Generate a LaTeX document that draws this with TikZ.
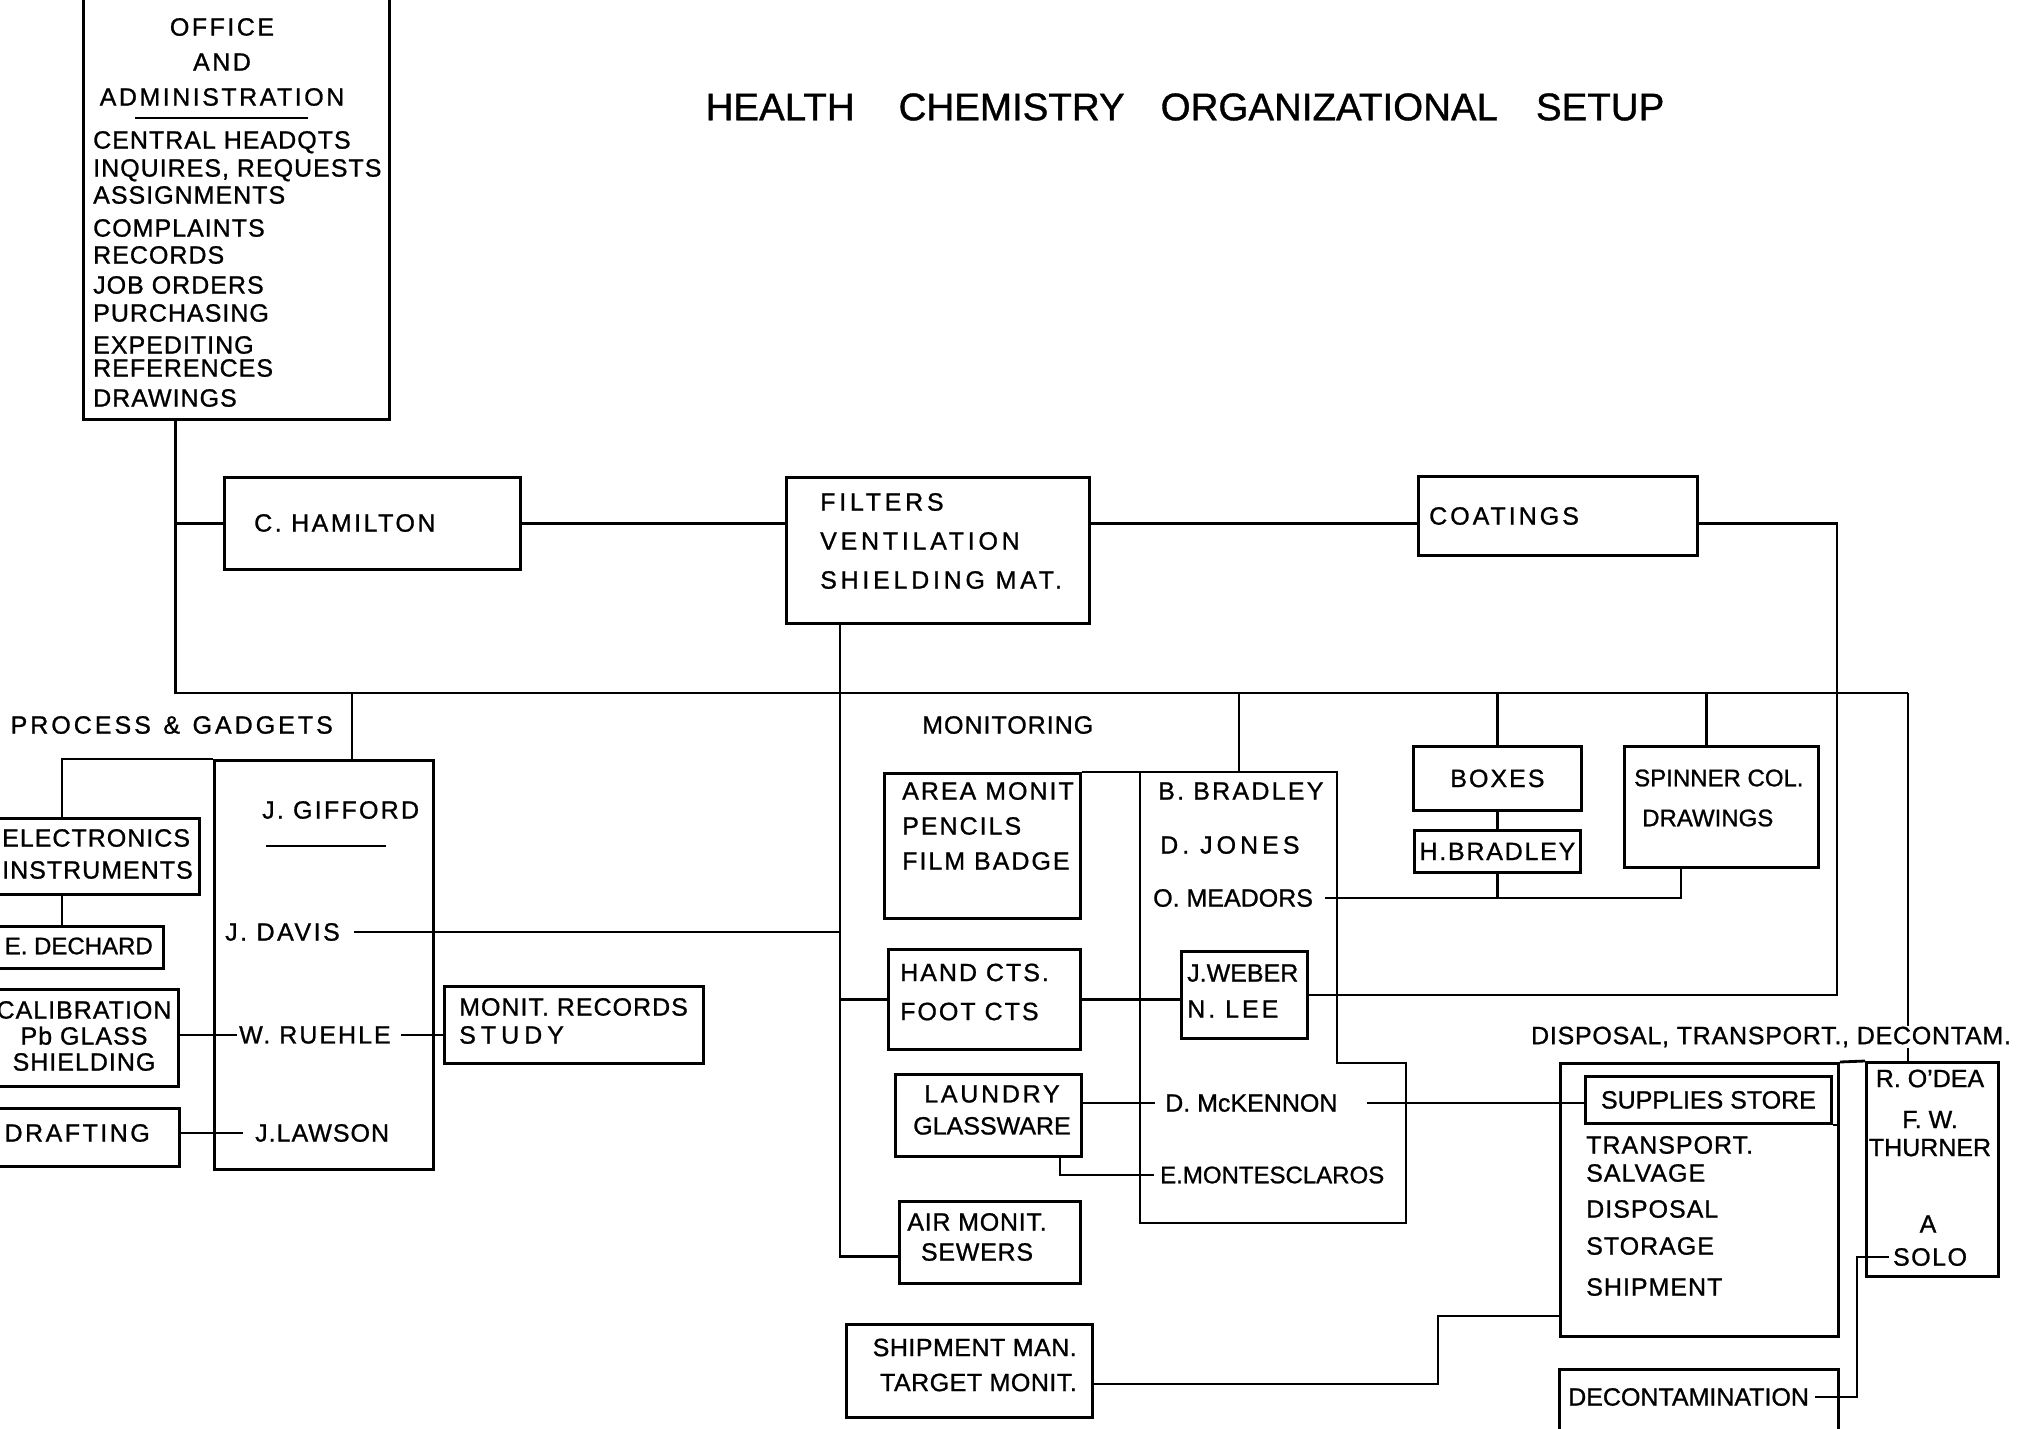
\documentclass[tikz,border=0pt]{standalone}
\usepackage{fontspec}
\setmainfont{Liberation Sans}[FakeBold=1]
\newcommand{\chartsize}[1]{\fontsize{25}{#1}\selectfont}
\newcommand{\spreadby}[1]{\addfontfeature{LetterSpace=#1}}
\tikzset{
  boxline/.style={line width=2.8pt},
  box/.style={draw, boxline, rectangle, inner sep=0pt, anchor=north west},
  txt/.style={inner sep=0pt, anchor=west, align=left, font=\chartsize{30}},
  wire/.style={line width=2.5pt},
}
\begin{document}
\begin{tikzpicture}[x=1pt, y=-1pt]
  \useasboundingbox (0,0) rectangle (2024,1429);
  \fill[white] (0,0) rectangle (2024,1429);
  \clip (0,0) rectangle (2024,1429);

  % title
  \node[inner sep=0pt, font=\fontsize{38.5}{40}\selectfont] (title) at (1185,107)
    {HEALTH\hspace{44pt}CHEMISTRY\hspace{36pt}ORGANIZATIONAL\hspace{38pt}SETUP};

  % office
  \node[box, minimum width=306, minimum height=424] (office) at (82,-6) {};
  \node[txt, anchor=center, align=center, font=\chartsize{35}\spreadby{10}] (offhead) at (222,62)
    {OFFICE\\AND\\ADMINISTRATION};
  \draw[wire] ([xshift=-87, yshift=-12]offhead.south) -- ++(173,0);
  \node[txt, font=\chartsize{27}\spreadby{4}] (offlist) at (93,269)
    {CENTRAL HEADQTS\\[1pt]INQUIRES, REQUESTS\\ASSIGNMENTS\\[6pt]COMPLAINTS\\RECORDS\\[3pt]JOB ORDERS\\[1pt]PURCHASING\\[5pt]EXPEDITING\\[-4pt]REFERENCES\\[3pt]DRAWINGS};

  % top row
  \node[box, minimum width=296, minimum height=92] (ham) at (223,476) {};
  \node[txt, font=\chartsize{30}\spreadby{10}] (hamt) at (254,523) {C. HAMILTON};
  \node[box, minimum width=303, minimum height=146] (filt) at (785,476) {};
  \node[txt, font=\chartsize{39}\spreadby{15}] (filtt) at (820,541) {FILTERS\\VENTILATION\\SHIELDING MAT.};
  \node[box, minimum width=279, minimum height=79] (coat) at (1417,475) {};
  \node[txt, font=\chartsize{30}\spreadby{12}] (coatt) at (1429,516) {COATINGS};

  % process & gadgets
  \node[txt, anchor=east, font=\chartsize{30}\spreadby{12}] (procg) at (333,725) {PROCESS\enspace\&\enspace GADGETS};
  \node[box, minimum width=219, minimum height=409] (giff) at (213,759) {};
  \node[txt, font=\chartsize{30}\spreadby{9}] (gifft) at (262,810) {J. GIFFORD};
  \draw[wire] ([xshift=4, yshift=-27]gifft.south west) -- ++(120,0);
  \node[txt, font=\chartsize{30}\spreadby{10}] (davis) at (225,932) {J. DAVIS};
  \node[txt, font=\chartsize{30}\spreadby{8}] (ruehle) at (239,1035) {W. RUEHLE};
  \node[txt, font=\chartsize{30}\spreadby{4}] (lawson) at (255,1133) {J.LAWSON};
  \node[box, minimum width=218, minimum height=76] (elec) at (-20,817) {};
  \node[txt, font=\chartsize{32}\spreadby{4}] (elect) at (2,854) {ELECTRONICS\\INSTRUMENTS};
  \node[box, minimum width=182, minimum height=42] (dech) at (-20,925) {};
  \node[txt, anchor=east, font=\fontsize{24}{30}\selectfont] (decht) at (153,946) {E. DECHARD};
  \node[box, minimum width=197, minimum height=97] (calib) at (-20,988) {};
  \node[txt, anchor=center, align=center, font=\chartsize{26}\spreadby{4}] (calibt) at (84,1036) {CALIBRATION\\Pb GLASS\\SHIELDING};
  \node[box, minimum width=198, minimum height=58] (draft) at (-20,1107) {};
  \node[txt, anchor=east, font=\chartsize{30}\spreadby{10}] (draftt) at (150,1133) {DRAFTING};
  \node[box, minimum width=259, minimum height=77] (monit) at (443,985) {};
  \node[txt, font=\chartsize{28}\spreadby{4}] (monitt) at (459,1021) {MONIT. RECORDS\\{\spreadby{20}STUDY}};

  % monitoring
  \node[txt, font=\chartsize{30}\spreadby{4}] (monlab) at (922,725) {MONITORING};
  \node[box, minimum width=196, minimum height=145] (area) at (883,772) {};
  \node[txt, font=\chartsize{35}\spreadby{8}] (areat) at (902,826) {AREA MONIT\\PENCILS\\FILM BADGE};
  \node[box, minimum width=192, minimum height=100] (hand) at (887,948) {};
  \node[txt, font=\chartsize{39}\spreadby{8}] (handt) at (900,992) {HAND CTS.\\FOOT CTS};
  \node[box, minimum width=186, minimum height=82] (laun) at (894,1073) {};
  \node[txt, anchor=center, align=center, font=\chartsize{32}] (launt) at (992,1110) {{\spreadby{11}LAUNDRY}\\GLASSWARE};
  \node[box, minimum width=181, minimum height=82] (air) at (898,1200) {};
  \node[txt, anchor=center, align=center, font=\chartsize{30}\spreadby{3}] (airt) at (977,1237) {AIR MONIT.\\SEWERS};
  \node[box, minimum width=246, minimum height=93] (ship) at (845,1323) {};
  \node[txt, anchor=east, align=right, font=\chartsize{35}\spreadby{2}] (shipt) at (1077,1365) {SHIPMENT MAN.\\TARGET MONIT.};

  \coordinate (mongrp) at (1140,772);
  \coordinate (mongrpse) at (1406,1223);
  \coordinate (montop) at (1239,772);
  \draw[boxline] (mongrp) -| (1337,1063) -| (mongrpse) -| (mongrp) -- cycle;
  \node[txt, font=\chartsize{30}\spreadby{9}] (bbrad) at (1158,791) {B. BRADLEY};
  \node[txt, font=\chartsize{30}\spreadby{16}] (djones) at (1160,845) {D. JONES};
  \node[txt] (omead) at (1153,898) {O. MEADORS};
  \node[box, minimum width=126, minimum height=87] (weber) at (1180,950) {};
  \node[txt, font=\chartsize{36}] (webert) at (1187,991) {J.WEBER\\{\spreadby{12}N. LEE}};
  \node[txt] (dmck) at (1165,1103) {D. McKENNON};
  \node[txt, font=\fontsize{24}{30}\selectfont] (emont) at (1160,1175) {E.MONTESCLAROS};

  % right side
  \node[box, minimum width=168, minimum height=64, font=\chartsize{30}\spreadby{8}] (boxes) at (1412,745) {BOXES};
  \node[box, minimum width=166, minimum height=42, font=\chartsize{30}\spreadby{7}] (hbrad) at (1413,829) {H.BRADLEY};
  \node[box, minimum width=194, minimum height=121] (spin) at (1623,745) {};
  \node[txt, font=\fontsize{24}{40}\selectfont] (spint) at (1634,798) {SPINNER COL.\\\hspace*{8pt}DRAWINGS};
  \node[txt, anchor=center, font=\chartsize{30}\spreadby{3}] (displab) at (1771,1037) {DISPOSAL, TRANSPORT., DECONTAM.};
  \node[box, minimum width=278, minimum height=273] (disp) at (1559,1062) {};
  \node[box, minimum width=246, minimum height=47, font=\chartsize{30}] (supp) at (1584,1075) {SUPPLIES STORE};
  \node[txt, font=\chartsize{28}\spreadby{4}] (dispt) at (1586,1216)
    {TRANSPORT.\\SALVAGE\\[8pt]DISPOSAL\\[9pt]STORAGE\\[13pt]SHIPMENT};
  \node[box, minimum width=132, minimum height=214] (rodea) at (1865,1061) {};
  \node[txt, anchor=center, align=center, font=\chartsize{30}] (rodeat) at (1930,1113) {R. O'DEA\\[11pt]F. W.\\[-2pt]THURNER};
  \node[txt, anchor=center] (rodeaa) at (1928,1224) {A};
  \node[txt, anchor=center, font=\chartsize{30}\spreadby{6}] (solo) at (1930,1257) {SOLO};
  \node[box, minimum width=279, minimum height=80] (decon) at (1558,1368) {};
  \node[txt, font=\chartsize{30}] (decont) at (1568,1397) {DECONTAMINATION};

  % connectors
  \coordinate (offdrop) at ([xshift=-61]office.south);
  \coordinate (busend) at (1908,693);
  \draw[wire] (offdrop) |- (busend);
  \draw[wire] (offdrop |- ham.west) -- (ham.west);
  \draw[wire] (ham.east) -- (ham.east -| filt.west);
  \draw[wire] (ham.east -| filt.east) -- (ham.east -| coat.west);
  \coordinate (coatdrop) at ([xshift=138]coat.east);
  \draw[wire] (coat.east |- ham.east) -| (coatdrop |- weber.east) -- (weber.east);

  \coordinate (pgdrop) at ([xshift=28]giff.north);
  \draw[wire] (pgdrop |- busend) -- (pgdrop);
  \coordinate (eldrop) at ([xshift=82]elec.south west);
  \draw[wire] (giff.north west) -| (eldrop |- elec.north);
  \draw[wire] (eldrop) -- (eldrop |- dech.north);
  \draw[wire] (calib.east |- ruehle.west) -- ([xshift=-2]ruehle.west);
  \draw[wire] ([xshift=10]ruehle.east) -- (ruehle.east -| monit.west);
  \draw[wire] (draft.east |- lawson.west) -- ([xshift=-12]lawson.west);

  \coordinate (fdrop) at ([xshift=55]filt.south west);
  \draw[wire] (fdrop) |- ([yshift=-14]air.west);
  \draw[wire] ([xshift=14]davis.east) -- (davis.east -| fdrop);
  \draw[wire] (hand.west -| fdrop) -- (hand.west);
  \draw[wire] (montop |- busend) -- (montop);
  \draw[boxline] (area.north east) -- (mongrp);
  \draw[wire] (hand.east) -- (hand.east -| weber.west);
  \coordinate (spfoot) at ([xshift=58]spin.south west);
  \draw[wire] ([xshift=12]omead.east) -| (spfoot);
  \draw[wire] (hbrad.south) -- (hbrad.south |- omead.east);
  \draw[wire] (boxes.north |- busend) -- (boxes.north);
  \draw[wire] (boxes.south) -- (hbrad.north);
  \coordinate (sptop) at ([xshift=-15]spin.north);
  \draw[wire] (sptop |- busend) -- (sptop);
  \draw[wire] (laun.east |- dmck.west) -- ([xshift=-10]dmck.west);
  \coordinate (launfoot) at ([xshift=-23]laun.south east);
  \draw[wire] (launfoot) |- ([xshift=-6]emont.west);
  \draw[wire] ([xshift=29]dmck.east) -- (dmck.east -| supp.west);
  \draw[wire] (supp.south east) -- (supp.south east -| disp.east);
  \draw[boxline] (disp.north east) -- (rodea.north west);
  \coordinate (shipturn) at (1438,1316);
  \draw[wire] ([yshift=-13]ship.east) -| (shipturn) -- (shipturn -| disp.west);
  \coordinate (deconturn) at ([xshift=17]decon.east);
  \draw[wire] ([xshift=6]decont.east) -| (deconturn |- solo.west) -- ([xshift=-4]solo.west);
  \draw[wire] (busend) -- (busend |- displab.north);
  \draw[wire] (busend |- displab.south) -- (busend |- rodea.north);
\end{tikzpicture}
\end{document}
